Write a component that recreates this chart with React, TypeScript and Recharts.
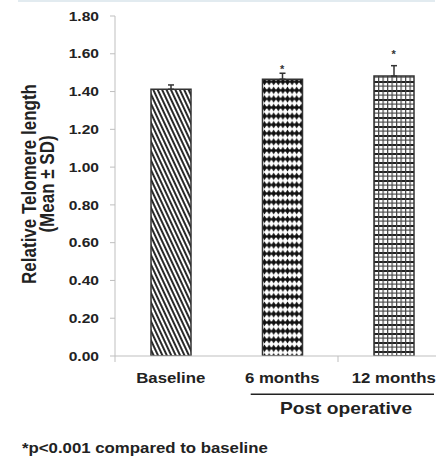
import React from 'react';
import { ComposedChart, Bar, Cell, XAxis, YAxis, ErrorBar, Scatter } from 'recharts';

// ---------- data ----------
const categories = ['Baseline', '6 months', '12 months'];
const meanValues = [1.412, 1.465, 1.482];
const sdValues = [0.023, 0.032, 0.055];
const significanceLevels = [null, 1.532, 1.609];
const yTicks = [0, 0.2, 0.4, 0.6, 0.8, 1.0, 1.2, 1.4, 1.6, 1.8];
const yAxisTitle = ['Relative Telomere length', '(Mean ± SD)'];
const groupLabel = 'Post operative';
const footnote = '*p<0.001 compared to baseline';
const patternIds = ['pDiag', 'pDiamond', 'pBrick'];

const data = categories.map((name, i) => ({
  name,
  mean: meanValues[i],
  sd: [0, sdValues[i]],
  star: significanceLevels[i],
}));

// ---------- styles ----------
const FONT = '"Liberation Sans", Arial, Helvetica, sans-serif';
const TEXT = '#222';
const AXIS = '#bfbfbf';
const SX = 1.2;

const YTick = (props: any) => {
  const { x, y, payload } = props;
  return (
    <text
      transform={`translate(${x},${y}) scale(${SX},1)`}
      textAnchor="end"
      dy="0.36em"
      fontFamily={FONT}
      fontWeight={700}
      fontSize={13}
      fill={TEXT}
    >
      {Number(payload.value).toFixed(2)}
    </text>
  );
};

const X_TICK_SIZE = 6;
const X_TICK_MARGIN = 11;

const XTick = (props: any) => {
  const { x, y, payload, index } = props;
  const half = payload && payload.offset ? payload.offset : 0;
  const axisY = y - X_TICK_SIZE - X_TICK_MARGIN;
  return (
    <g>
      <text
        transform={`translate(${x},${y}) scale(${SX},1)`}
        textAnchor="middle"
        dy="0.71em"
        fontFamily={FONT}
        fontWeight={700}
        fontSize={14}
        fill={TEXT}
      >
        {payload.value}
      </text>
      {index === 0 && (
        <line x1={x - half} x2={x - half} y1={axisY} y2={axisY + X_TICK_SIZE} stroke={AXIS} strokeWidth={1} />
      )}
      {index === 1 && (
        <line x1={x + half} x2={x + half} y1={axisY} y2={axisY + X_TICK_SIZE} stroke={AXIS} strokeWidth={1} />
      )}
    </g>
  );
};

const YTitle = (props: any) => {
  const vb = props.viewBox || { x: 0, y: 16, width: 115, height: 340 };
  const cy = vb.y + vb.height / 2 - 2;
  const xs = [28.5, 47];
  return (
    <g>
      {yAxisTitle.map((t, i) => (
        <text
          key={i}
          transform={`translate(${vb.x + xs[i]},${cy}) scale(${SX},1) rotate(-90)`}
          textAnchor="middle"
          dominantBaseline="central"
          fontFamily={FONT}
          fontWeight={700}
          fontSize={17}
          fill={TEXT}
        >
          {t}
        </text>
      ))}
    </g>
  );
};

const Star = (props: any) => {
  const { cx, cy, payload } = props;
  if (payload == null || payload.star == null || cx == null || cy == null || isNaN(cy)) return null;
  return (
    <text x={cx} y={cy} dy={6.4} textAnchor="middle" fontFamily={FONT} fontWeight={700} fontSize={11} fill="#333">
      *
    </text>
  );
};

export default function App() {
  return (
    <div
      style={{
        position: 'absolute',
        left: 0,
        top: 0,
        width: 436,
        height: 457,
        overflow: 'hidden',
        background: '#fff',
      }}
    >
      <div style={{ position: 'absolute', left: 18, top: 0, width: 417, height: 2, background: '#e2ebf0' }} />
      <ComposedChart
        width={455}
        height={457}
        data={data}
        margin={{ top: 16, right: 5.5, left: 0, bottom: 71 }}
      >
        <defs>
          <pattern id="pDiag" patternUnits="userSpaceOnUse" width="4" height="4" patternTransform="rotate(-25)">
            <rect width="4" height="4" fill="#fff" />
            <rect width="2" height="4" fill="#2a2a2a" />
          </pattern>
          <pattern id="pDiamond" patternUnits="userSpaceOnUse" width="4.6" height="8.6">
            <rect width="4.6" height="8.6" fill="#fff" />
            <polygon points="2.3,0.4 4.6,4.3 2.3,8.2 0,4.3" fill="#111" />
            <rect x="0" y="3.3" width="4.6" height="2" fill="#111" />
          </pattern>
          <pattern id="pBrick" patternUnits="userSpaceOnUse" width="4.5" height="9">
            <rect width="4.5" height="9" fill="#fff" />
            <rect x="0" y="0" width="4.5" height="2" fill="#222" />
            <rect x="0" y="4.5" width="4.5" height="1.2" fill="#555" />
            <rect x="0" y="0" width="1.2" height="9" fill="#444" />
          </pattern>
        </defs>
        <XAxis
          dataKey="name"
          axisLine={{ stroke: AXIS, strokeWidth: 1 }}
          tickLine={false}
          tickSize={X_TICK_SIZE}
          tickMargin={X_TICK_MARGIN}
          height={30}
          interval={0}
          tick={<XTick />}
        />
        <YAxis
          domain={[0, 1.8]}
          ticks={yTicks}
          interval={0}
          width={115}
          allowDataOverflow
          axisLine={{ stroke: AXIS, strokeWidth: 1 }}
          tickLine={{ stroke: AXIS, strokeWidth: 1 }}
          tickSize={5}
          tickMargin={11}
          tick={<YTick />}
          label={{ content: (p: any) => <YTitle {...p} /> }}
        />
        <Bar dataKey="mean" barSize={40} stroke="#333" strokeWidth={1.5} isAnimationActive={false}>
          {data.map((d, i) => (
            <Cell key={d.name} fill={`url(#${patternIds[i]})`} />
          ))}
          <ErrorBar dataKey="sd" direction="y" width={3} stroke="#333" strokeWidth={1.5} />
        </Bar>
        <Scatter dataKey="star" shape={<Star />} isAnimationActive={false} />
      </ComposedChart>
      <svg
        width={436}
        height={457}
        style={{ position: 'absolute', left: 0, top: 0, pointerEvents: 'none' }}
      >
        <line x1={250.7} x2={434} y1={394.3} y2={394.3} stroke={TEXT} strokeWidth={1.5} />
        <text
          transform={`translate(346,413.5) scale(${SX},1)`}
          textAnchor="middle"
          fontFamily={FONT}
          fontWeight={700}
          fontSize={16}
          fill={TEXT}
        >
          {groupLabel}
        </text>
        <text
          transform={`translate(22,453) scale(${SX},1)`}
          textAnchor="start"
          fontFamily={FONT}
          fontWeight={700}
          fontSize={14}
          fill={TEXT}
        >
          {footnote}
        </text>
      </svg>
    </div>
  );
}
